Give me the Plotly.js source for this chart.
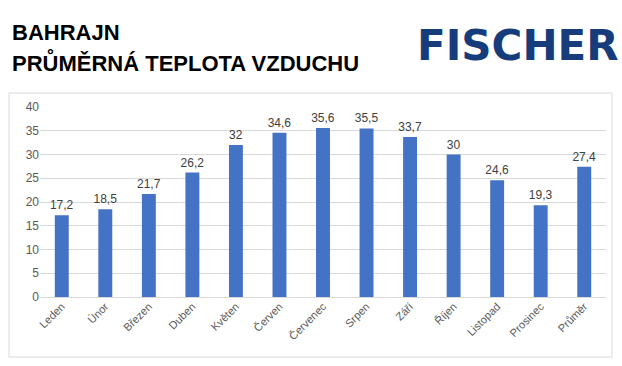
<!DOCTYPE html>
<html><head><meta charset="utf-8">
<script src="https://cdn.plot.ly/plotly-3.0.1.min.js"></script>
<style>html,body{margin:0;padding:0;background:#fff;}#c{width:622px;height:366px;}</style>
</head><body><div id="c"></div>
<script>
const months = ["Leden","Únor","Březen","Duben","Květen","Červen","Červenec","Srpen","Září","Říjen","Listopad","Prosinec","Průměr"];
const temps = [17.2,18.5,21.7,26.2,32,34.6,35.6,35.5,33.7,30,24.6,19.3,27.4];
const labels = temps.map(v => String(v).replace('.', ','));

const L=40, R=16, T=107, B=69, W=622, H=366;
const pw=W-L-R, ph=H-T-B;
const px = x => (x-L)/pw;
const py = y => (H-B-y)/ph;

const data=[{type:'bar',x:months,y:temps,text:labels,textposition:'outside',constraintext:'none',
  textfont:{family:'Liberation Sans, Arial, sans-serif',size:12,color:'#404040'},
  marker:{color:'#4472C4'},cliponaxis:false,hoverinfo:'none'}];

const layout={width:W,height:H,margin:{l:L,r:R,t:T,b:B},paper_bgcolor:'#fff',plot_bgcolor:'#fff',
  showlegend:false,bargap:0.68,
  font:{family:'Liberation Sans, Arial, sans-serif',color:'#595959'},
  xaxis:{tickangle:-45,tickfont:{size:11,color:'#595959'},showgrid:false,zeroline:false,showline:false,ticks:'',fixedrange:true},
  yaxis:{range:[0,40],dtick:5,tickfont:{size:12,color:'#595959'},gridcolor:'#d9d9d9',gridwidth:1,zeroline:true,zerolinecolor:'#d9d9d9',showline:false,ticks:'',ticklen:0,fixedrange:true},
  shapes:[{type:'rect',xref:'paper',yref:'paper',x0:px(9),x1:px(612),y0:py(357),y1:py(93),line:{color:'#d9d9d9',width:1},fillcolor:'rgba(0,0,0,0)',layer:'below'}],
  annotations:[
    {text:'<b>BAHRAJN</b>',xref:'paper',yref:'paper',x:px(10),y:py(33),xanchor:'left',yanchor:'middle',showarrow:false,font:{family:'Liberation Sans, Arial, sans-serif',size:22,color:'#000'}},
    {text:'<b>PRŮMĚRNÁ TEPLOTA VZDUCHU</b>',xref:'paper',yref:'paper',x:px(10),y:py(62),xanchor:'left',yanchor:'middle',showarrow:false,font:{family:'Liberation Sans, Arial, sans-serif',size:22,color:'#000'}},
    {text:'<b>FISCHER</b>',xref:'paper',yref:'paper',x:px(518),y:py(45),xanchor:'center',yanchor:'middle',showarrow:false,font:{family:'DejaVu Sans, sans-serif',size:42,color:'#173C7C'}}
  ]};
Plotly.newPlot('c',data,layout,{displayModeBar:false,staticPlot:true});
</script></body></html>
